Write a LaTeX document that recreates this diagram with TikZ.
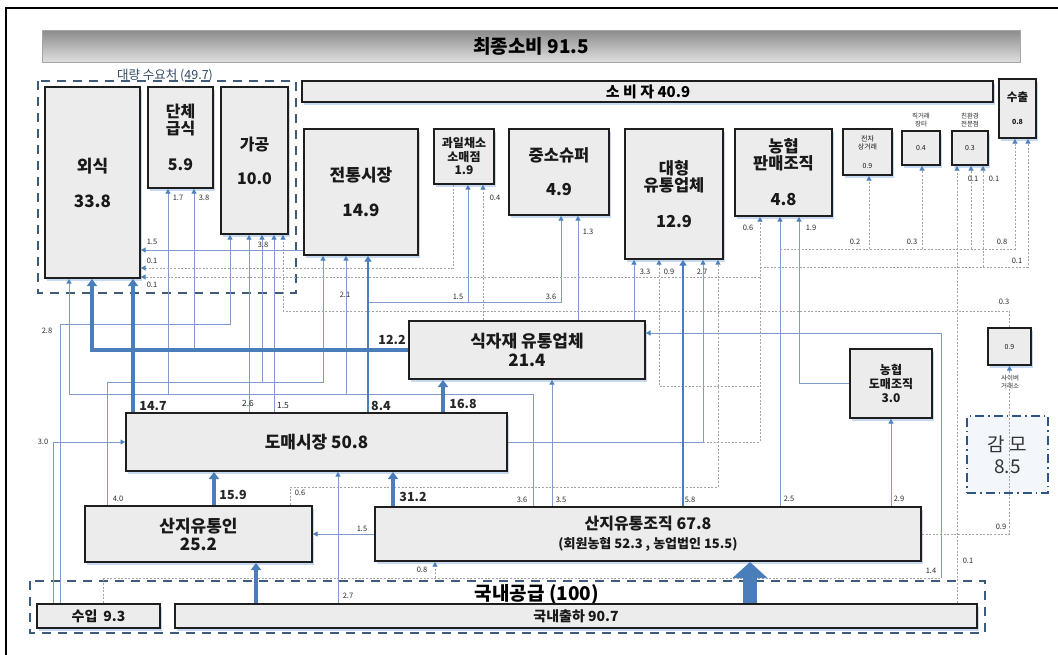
\documentclass[tikz,border=0pt]{standalone}
\usepackage{fontspec}
\setmainfont{Noto Sans CJK KR}
\usetikzlibrary{arrows.meta,shadows}
\definecolor{thinc}{HTML}{7F9CCB}
\definecolor{thickc}{HTML}{4A7EBB}
\definecolor{arrc}{HTML}{4F81BD}
\definecolor{dotc}{HTML}{A3A3A3}
\definecolor{boxfill}{HTML}{ECECEC}
\definecolor{boxline}{HTML}{1E1E1E}
\definecolor{dashc}{HTML}{3E5B7A}
\definecolor{glow}{HTML}{C8DAF0}
\definecolor{labc}{HTML}{2A2A2A}
\definecolor{gamfill}{HTML}{F3F7FC}
\definecolor{gamline}{HTML}{2E5585}
\newcommand\fsz[2]{\fontsize{#1}{#2}\selectfont}
\begin{document}
\begin{tikzpicture}[x=1pt,y=-1pt,
  cbox/.style={draw=boxline, line width=2pt, fill=boxfill,
    drop shadow={fill=glow, opacity=1, shadow xshift=1.5pt, shadow yshift=-2.5pt},
    inner sep=1pt, align=center, text=black!90},
  cthin/.style={draw=thinc, line width=0.8pt},
  cthina/.style={cthin, -{Triangle[width=5pt,length=4.5pt,color=arrc]}},
  cdot/.style={draw=dotc, line width=0.7pt, dash pattern=on 2pt off 1.6pt},
  cdota/.style={cdot, -{Triangle[width=5pt,length=4.5pt,color=arrc]}},
  cthick/.style={draw=thickc, line width=3.2pt, -{Triangle[width=10pt,length=7pt]}},
  cmed/.style={draw=thickc, line width=1.7pt, -{Triangle[width=7pt,length=5.5pt]}},
  lsm/.style={font=\fsz{7.5}{8}, text=labc, inner sep=0pt},
  lmd/.style={font=\fsz{8.5}{9}, text=labc, inner sep=0pt},
  lbg/.style={font=\fsz{12.5}{13}\bfseries, text=black!85, inner sep=0pt},
  ldash/.style={draw=dashc, line width=2.2pt, dash pattern=on 9pt off 7pt}
]
\useasboundingbox (0,0) rectangle (1058,654);
\fill[white] (0,0) rectangle (1058,654);
\draw[line width=1.6pt] (6,700) -- (6,8) -- (1100,8);

% banner
\node[draw=gray!70, line width=0.6pt, top color=black!45, bottom color=black!12,
  minimum width=978, minimum height=32, inner sep=0pt,
  font=\fsz{19}{20}\bfseries] (final) at (531,46.5) {최종소비 91.5};

% dashed group boxes
\draw[ldash] (38,81) rectangle (296,293);
\node[font=\fsz{12.5}{13}, text=dashc!80!black, inner sep=0pt] (bulk) at (165,76) {대량 수요처 (49.7)};
\draw[ldash] (30,581) rectangle (985,633);

% boxes
\node[cbox, minimum width=95, minimum height=191, font=\fsz{17}{35}\bfseries] (waesik) at (92.5,182.5) {외식\\33.8};
\node[cbox, minimum width=65, minimum height=101, font=\fsz{16}{17}\bfseries] (dan) at (180.5,137.5) {단체\\급식\\[19pt]5.9};
\node[cbox, minimum width=67, minimum height=147, font=\fsz{16}{34}\bfseries] (gagong) at (254.5,160.5) {가공\\10.0};
\node[cbox, minimum width=691, minimum height=21] (sobija) at (647.5,91.5) {};
\node[font=\fsz{15}{16}\bfseries, inner sep=0pt] (sobijat) at (648,91.5) {소 비 자 40.9};
\node[cbox, minimum width=37, minimum height=59, font=\fsz{7}{23}\bfseries] (suchul) at (1017.5,108.5) {{\fsz{11.5}{23}\bfseries 수출}\\0.8};
\node[cbox, minimum width=114, minimum height=126, font=\fsz{17}{35}\bfseries] (jeontong) at (361,192) {전통시장\\14.9};
\node[cbox, minimum width=60, minimum height=55, font=\fsz{12}{13.5}\bfseries] (gwail) at (464,156.5) {과일채소\\소매점\\1.9};
\node[cbox, minimum width=100, minimum height=86, font=\fsz{16.5}{34}\bfseries] (jungso) at (559,172) {중소슈퍼\\4.9};
\node[cbox, minimum width=98, minimum height=130, font=\fsz{16.5}{17}\bfseries] (daehyung) at (674,194) {대형\\유통업체\\[19pt]12.9};
\node[cbox, minimum width=97, minimum height=87, font=\fsz{16.5}{17}\bfseries] (nhpan) at (783.5,172.5) {농협\\판매조직\\[19pt]4.8};
\node[cbox, minimum width=49, minimum height=46, font=\fsz{7}{8.5}] (jeonja) at (867.5,152) {전자\\상거래\\[10pt]0.9};
\node[cbox, minimum width=38, minimum height=34, font=\fsz{7}{8}] (jik) at (921,148) {0.4};
\node[lsm, align=center, font=\fsz{6.5}{7.5}] (jikt) at (921,120) {직거래\\장터};
\node[cbox, minimum width=36, minimum height=34, font=\fsz{7}{8}] (chin) at (970,148) {0.3};
\node[lsm, align=center, font=\fsz{6.5}{7.5}] (chint) at (970,120) {친환경\\전문점};
\node[cbox, minimum width=236, minimum height=58, font=\fsz{17}{19}\bfseries] (sikja) at (527,350) {식자재 유통업체\\21.4};
\node[cbox, minimum width=82, minimum height=69, font=\fsz{12}{14}\bfseries] (nhdo) at (891,383.5) {농협\\도매조직\\3.0};
\node[cbox, minimum width=43, minimum height=37, font=\fsz{7}{8}] (cyber) at (1009.5,346.5) {0.9};
\node[lsm, align=center, font=\fsz{6.5}{7.5}] (cybert) at (1010,382) {사이버\\거래소};
\node[draw=gamline, line width=2.2pt, dash pattern=on 9pt off 4pt on 1.5pt off 4pt,
  fill=gamfill, minimum width=81, minimum height=77, align=center,
  font=\fsz{19}{22}, text=black!80] (gammo) at (1007.5,454.5) {감 모\\8.5};
\node[cbox, minimum width=381, minimum height=58, font=\fsz{17}{18}\bfseries] (domae) at (316.5,442) {도매시장 50.8};
\node[cbox, minimum width=227, minimum height=56, font=\fsz{17}{18}\bfseries] (sanjiin) at (198.5,534) {산지유통인\\25.2};
\node[cbox, minimum width=546, minimum height=54, font=\fsz{16}{19}\bfseries] (sanjijo) at (648,534) {산지유통조직 67.8\\{\fsz{13}{19}\bfseries (회원농협 52.3 , 농업법인 15.5)}};
\node[font=\fsz{19}{20}\bfseries, inner sep=0pt] (supply) at (537,594) {국내공급 (100)};
\node[cbox, minimum width=123, minimum height=24, font=\fsz{14}{15}\bfseries] (suip) at (98.5,616) {수입\hspace{6pt}9.3};
\node[cbox, minimum width=802, minimum height=24, font=\fsz{14}{15}\bfseries] (guknae) at (576,616) {국내출하 90.7};

% ---- thin solid connectors ----
\draw[cthina] (suip.north -| 60,0) |- (230,324) -- (gagong.south -| 230,0);
\draw[cthina] (suip.north -| 53,0) |- (domae.west);
\draw[cthina] (sanjijo.north -| 533,0) -- (533,394) -- (69,394) -- (waesik.south -| 69,0);
\draw[cthina] (168,394) -- (dan.south -| 168,0);
\draw[cthina] (346,394) -- (jeontong.south -| 346,0);
\draw[cthina] (sanjiin.north -| 107,0) |- (323,382) -- (jeontong.south -| 323,0);
\draw[cthina] (262,382) -- (gagong.south -| 262,0);
\draw[cthina] (domae.north -| 249,0) -- (gagong.south -| 249,0);
\draw[cthina] (domae.north -| 274,0) -- (gagong.south -| 274,0);
\draw[cthina] (194,350) -- (dan.south -| 194,0);
\draw[cthina] (jeontong.west |- 0,250) -- (waesik.east |- 0,250);
\draw[cthina] (368,302) -- (468,302) -- (gwail.south -| 468,0);
\draw[cthina] (468,302) -- (561,302) -- (jungso.south -| 561,0);
\draw[cthina] (sikja.north -| 578,0) -- (jungso.south -| 578,0);
\draw[cthina] (sikja.north -| 634,0) -- (daehyung.south -| 634,0);
\draw[cthina] (domae.east) -| (daehyung.south -| 703,0);
\draw[cthina] (sanjijo.north -| 552,0) -- (sikja.south -| 552,0);
\draw[cthina] (sanjijo.north -| 780,0) -- (nhpan.south -| 780,0);
\draw[cthina] (nhdo.west) -| (nhpan.south -| 799,0);
\draw[cthina] (sanjijo.north -| 891,0) -- (nhdo.south);
\draw[cthina] (sanjijo.west) -- (sanjiin.east);
\draw[cthina] (guknae.north -| 338,0) -- (domae.south -| 338,0);
\draw[cthina] (941,578) |- (sikja.east |- 0,333);

% ---- dotted connectors ----
\draw[cdota] (gwail.south -| 453,0) -- (453,268) -- (waesik.east |- 0,268);
\draw[cdota] (sanjiin.north -| 290,0) |- (718,487) -- (daehyung.south -| 718,0);
\draw[cdota] (760,277) -- (waesik.east |- 0,277);
\draw[cdota] (sikja.north -| 483,0) -- (gwail.south -| 483,0);
\draw[cdota] (cyber.north) |- (283,311) -- (gagong.south -| 283,0);
\draw[cdota] (sanjijo.east) -| (cyber.south);
\draw[cdota] (759,386) -- (659,386) -- (daehyung.south -| 659,0);
\draw[cdota] (703,442) -- (760,442) -- (nhpan.south -| 760,0);
\draw[cdota] (760,267) -- (1028,267) -- (suchul.south -| 1028,0);
\draw[cdota] (983,267) -- (chin.south -| 983,0);
\draw[cdota] (780,249) -- (1015,249) -- (suchul.south -| 1015,0);
\draw[cdota] (869,249) -- (jeonja.south -| 869,0);
\draw[cdota] (922,249) -- (jik.south -| 922,0);
\draw[cdota] (971,249) -- (chin.south -| 971,0);
\draw[cdota] (guknae.north -| 957,0) -- (chin.south -| 957,0);
\draw[cdot] (suip.north -| 103,0) |- (941,578);
\draw[cdota] (435,578) -- (sanjijo.south -| 435,0);

% ---- thick connectors ----
\draw[cthick] (guknae.north -| 256,0) -- (sanjiin.south -| 256,0);
\draw[cthick] (sanjiin.north -| 214,0) -- (domae.south -| 214,0);
\draw[cthick] (sanjijo.north -| 393,0) -- (domae.south -| 393,0);
\draw[cthick] (domae.north -| 443,0) -- (sikja.south -| 443,0);
\draw[cthick] (domae.north -| 133,0) -- (waesik.south -| 133,0);
\draw[cthick] (sikja.west) -| (waesik.south -| 92,0);
\draw[cmed] (domae.north -| 368,0) -- (jeontong.south -| 368,0);
\draw[cmed] (sanjijo.north -| 683,0) -- (daehyung.south -| 683,0);
\draw[draw=thickc, line width=14pt, -{Triangle[width=34pt,length=16pt]}] (guknae.north -| 750,0) -- (sanjijo.south -| 750,0);

% ---- labels ----
\node[lsm] (l1) at (178,198) {1.7};
\node[lsm] (l2) at (204,198) {3.8};
\node[lsm] (l3) at (263,245) {3.8};
\node[lsm] (l4) at (152,242) {1.5};
\node[lsm] (l5) at (152,261) {0.1};
\node[lsm] (l6) at (152,285) {0.1};
\node[lsm] (l7) at (345,295) {2.1};
\node[lsm] (l8) at (458,297) {1.5};
\node[lsm] (l9) at (551,297) {3.6};
\node[lsm] (l10) at (495,198) {0.4};
\node[lsm] (l11) at (588,232) {1.3};
\node[lsm] (l12) at (645,272) {3.3};
\node[lsm] (l13) at (669,272) {0.9};
\node[lsm] (l14) at (702,272) {2.7};
\node[lsm] (l15) at (748,228) {0.6};
\node[lsm] (l16) at (811,228) {1.9};
\node[lsm] (l17) at (855,242) {0.2};
\node[lsm] (l18) at (912,242) {0.3};
\node[lsm] (l19) at (1002,242) {0.8};
\node[lsm] (l20) at (1017,261) {0.1};
\node[lsm] (l21) at (973,179) {0.1};
\node[lsm] (l22) at (994,179) {0.1};
\node[lsm] (l23) at (1004,302) {0.3};
\node[lsm] (l24) at (47,331) {2.8};
\node[lsm] (l25) at (43,442) {3.0};
\node[lbg] (l26) at (153,406) {14.7};
\node[lmd] (l27) at (248,403) {2.6};
\node[lmd] (l28) at (283,406) {1.5};
\node[lbg] (l29) at (381,406) {8.4};
\node[lbg] (l30) at (392,340) {12.2};
\node[lbg] (l31) at (463,404) {16.8};
\node[lbg] (l32) at (233,495) {15.9};
\node[lsm] (l33) at (118,499) {4.0};
\node[lsm] (l34) at (300,493) {0.6};
\node[lsm] (l35) at (362,529) {1.5};
\node[lsm] (l36) at (348,596) {2.7};
\node[lbg] (l37) at (413,497) {31.2};
\node[lsm] (l38) at (522,500) {3.6};
\node[lsm] (l39) at (561,500) {3.5};
\node[lsm] (l40) at (690,500) {5.8};
\node[lsm] (l41) at (422,570) {0.8};
\node[lsm] (l42) at (789,499) {2.5};
\node[lsm] (l43) at (899,499) {2.9};
\node[lsm] (l44) at (1001,527) {0.9};
\node[lsm] (l45) at (968,561) {0.1};
\node[lsm] (l46) at (931,571) {1.4};
\end{tikzpicture}
\end{document}
